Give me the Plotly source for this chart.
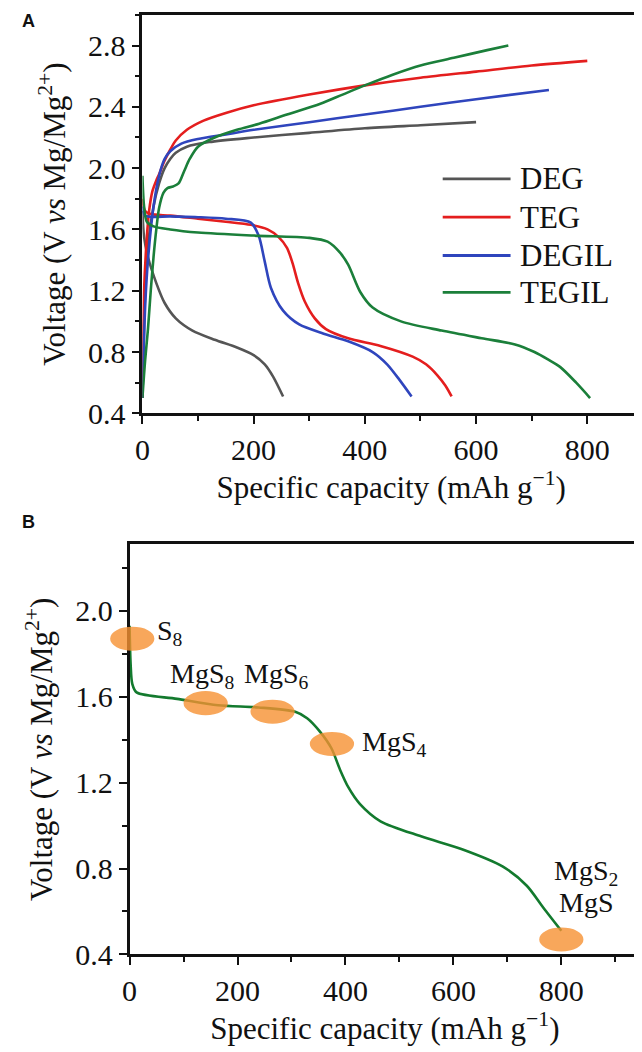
import plotly.graph_objects as go

# ---------------- Panel A data ----------------
series_names = ["DEG", "TEG", "DEGIL", "TEGIL"]
series_colors = ["#555555", "#e41e1e", "#2f45bd", "#1b7f3a"]

deg_dis_x = [0, 3, 10, 25, 40, 60, 90, 130, 170, 200, 220, 235, 253]
deg_dis_y = [1.72, 1.55, 1.42, 1.25, 1.12, 1.02, 0.94, 0.88, 0.83, 0.78, 0.72, 0.64, 0.51]
deg_chg_x = [0, 5, 10, 20, 30, 40, 50, 60, 80, 120, 200, 300, 400, 500, 600]
deg_chg_y = [0.5, 1.2, 1.5, 1.75, 1.9, 2.0, 2.06, 2.1, 2.14, 2.17, 2.2, 2.23, 2.26, 2.28, 2.30]

teg_dis_x = [0, 5, 15, 50, 100, 150, 195, 225, 245, 260, 270, 280, 292, 310, 330, 370, 428, 486, 510, 530, 545, 556]
teg_dis_y = [1.8, 1.72, 1.70, 1.69, 1.67, 1.65, 1.63, 1.60, 1.55, 1.48, 1.38, 1.25, 1.13, 1.02, 0.95, 0.89, 0.84, 0.77, 0.72, 0.65, 0.58, 0.51]
teg_chg_x = [0, 3, 8, 12, 18, 25, 30, 40, 50, 60, 80, 110, 150, 200, 300, 400, 500, 600, 700, 800]
teg_chg_y = [0.5, 1.2, 1.55, 1.72, 1.85, 1.92, 1.96, 2.05, 2.12, 2.18, 2.25, 2.31, 2.36, 2.41, 2.48, 2.54, 2.59, 2.63, 2.67, 2.70]

degil_dis_x = [0, 5, 50, 100, 150, 195, 209, 220, 231, 253, 282, 326, 370, 414, 440, 462, 484]
degil_dis_y = [1.75, 1.69, 1.685, 1.68, 1.67, 1.645, 1.56, 1.39, 1.22, 1.07, 0.98, 0.92, 0.87, 0.80, 0.72, 0.62, 0.51]
degil_chg_x = [0, 5, 10, 20, 30, 40, 50, 70, 100, 150, 200, 300, 400, 500, 600, 731]
degil_chg_y = [0.5, 1.1, 1.4, 1.75, 1.95, 2.06, 2.11, 2.16, 2.19, 2.22, 2.25, 2.30, 2.35, 2.40, 2.45, 2.51]

tegil_dis_x = [0, 3, 8, 20, 50, 100, 200, 300, 333, 355, 370, 392, 414, 465, 538, 610, 670, 705, 730, 752, 780, 805]
tegil_dis_y = [1.95, 1.75, 1.65, 1.62, 1.60, 1.58, 1.56, 1.545, 1.52, 1.45, 1.37, 1.19, 1.09, 1.00, 0.94, 0.89, 0.85, 0.80, 0.75, 0.70, 0.60, 0.50]
tegil_chg_x = [0, 5, 10, 15, 20, 25, 30, 38, 45, 55, 65, 75, 85, 100, 130, 170, 210, 260, 320, 360, 400, 450, 500, 560, 620, 658]
tegil_chg_y = [0.5, 0.75, 0.95, 1.2, 1.42, 1.6, 1.74, 1.84, 1.87, 1.88, 1.9, 1.98, 2.06, 2.14, 2.2, 2.25, 2.29, 2.35, 2.42, 2.48, 2.54, 2.61, 2.67, 2.72, 2.77, 2.80]

# legend rows (panel A, in data units)
legend_y = [1.93, 1.68, 1.43, 1.19]

# ---------------- Panel B data ----------------
b_x = [0, 2, 5, 13, 88, 164, 239, 307, 329, 352, 374, 390, 405, 427, 465, 540, 616, 691, 736, 766, 800]
b_y = [1.93, 1.75, 1.66, 1.62, 1.59, 1.56, 1.55, 1.53, 1.50, 1.44, 1.36, 1.26, 1.18, 1.10, 1.02, 0.95, 0.89, 0.81, 0.72, 0.62, 0.51]

spot_x = [5, 141, 265, 375, 800]
spot_y = [1.87, 1.57, 1.53, 1.38, 0.47]
label_text = ["S<sub>8</sub>", "MgS<sub>8</sub>", "MgS<sub>6</sub>", "MgS<sub>4</sub>", "MgS<sub>2</sub>", "MgS"]
label_x = [75, 135, 272, 490, 845, 845]
label_y = [1.90, 1.70, 1.70, 1.38, 0.78, 0.64]

x_ticks = [0, 200, 400, 600, 800]
y_ticks = [0.4, 0.8, 1.2, 1.6, 2.0, 2.4, 2.8]

W, H = 642, 1052
FONT = "Liberation Serif"

# layout of the two panels (paper fractions)
A_xdom = [128 / W, 632 / W]
A_ydom = [1 - 412 / H, 1 - 7 / H]
A_xr = [0, 895]
A_yr = [0.4, 3.0]
B_xdom = [115 / W, 632 / W]
B_ydom = [1 - 962 / H, 1 - 545 / H]
B_xr = [0, 946]
B_yr = [0.4, 2.31]


def to_paper(v, dom, rng):
    return dom[0] + (v - rng[0]) / (rng[1] - rng[0]) * (dom[1] - dom[0])


fig = go.Figure()

groups = [
    (deg_dis_x, deg_dis_y, deg_chg_x, deg_chg_y),
    (teg_dis_x, teg_dis_y, teg_chg_x, teg_chg_y),
    (degil_dis_x, degil_dis_y, degil_chg_x, degil_chg_y),
    (tegil_dis_x, tegil_dis_y, tegil_chg_x, tegil_chg_y),
]
for name, color, (dx, dy, cx, cy) in zip(series_names, series_colors, groups):
    for xs, ys in ((dx, dy), (cx, cy)):
        fig.add_trace(go.Scatter(x=xs, y=ys, mode="lines", name=name, showlegend=False,
                                 line=dict(color=color, width=2.6, shape="spline", smoothing=0.8),
                                 xaxis="x", yaxis="y"))

fig.add_trace(go.Scatter(x=b_x, y=b_y, mode="lines", showlegend=False,
                         line=dict(color="#137a2e", width=2.6, shape="spline", smoothing=0.8),
                         xaxis="x2", yaxis="y2"))

shapes = []
annotations = []

# orange spots (ellipses) in panel B, converted to paper coords so they are not clipped
hw, hh = 41, 0.056
for sx, sy in zip(spot_x, spot_y):
    shapes.append(dict(type="circle", xref="paper", yref="paper",
                       x0=to_paper(sx - hw, B_xdom, B_xr), x1=to_paper(sx + hw, B_xdom, B_xr),
                       y0=to_paper(sy - hh, B_ydom, B_yr), y1=to_paper(sy + hh, B_ydom, B_yr),
                       fillcolor="rgba(246,145,50,0.80)", line=dict(width=0), layer="above"))

for t, lx, ly in zip(label_text, label_x, label_y):
    annotations.append(dict(text=t, x=lx, y=ly, xref="x2", yref="y2", showarrow=False,
                            font=dict(family=FONT, size=28, color="#111")))

# manual legend in panel A
for name, color, ly in zip(series_names, series_colors, legend_y):
    shapes.append(dict(type="line", xref="x", yref="y", x0=540, x1=662,
                       y0=ly, y1=ly, line=dict(color=color, width=2.8)))
    annotations.append(dict(text=name, x=675, y=ly, xref="x", yref="y",
                            xanchor="left", yanchor="middle", showarrow=False,
                            font=dict(family=FONT, size=31, color="#111")))

# panel letters
annotations.append(dict(text="<b>A</b>", x=4 / W, y=1 - 13 / H, xref="paper", yref="paper",
                        xanchor="left", yanchor="middle", showarrow=False,
                        font=dict(family="Liberation Sans", size=18, color="#111")))
annotations.append(dict(text="<b>B</b>", x=4 / W, y=1 - 522 / H, xref="paper", yref="paper",
                        xanchor="left", yanchor="middle", showarrow=False,
                        font=dict(family="Liberation Sans", size=18, color="#111")))

minor_common = dict(ticks="outside", ticklen=5, tickwidth=2, tickcolor="#111")
axis_common = dict(showline=True, linecolor="#111", linewidth=2.6, mirror=True,
                   ticks="outside", tickcolor="#111", tickwidth=2, ticklen=8,
                   showgrid=False, zeroline=False,
                   tickfont=dict(family=FONT, size=30, color="#111"))

ytitle = "Voltage (V <i>vs</i> Mg/Mg<sup>2+</sup>)"
xtitle = "Specific capacity (mAh g<sup>\u22121</sup>)"
title_font = dict(family=FONT, size=31, color="#111")

fig.update_layout(
    width=W, height=H, paper_bgcolor="white", plot_bgcolor="white",
    margin=dict(l=0, r=0, t=0, b=0), showlegend=False,
    shapes=shapes, annotations=annotations,
    xaxis=dict(axis_common, domain=A_xdom, range=A_xr, anchor="y",
               tickvals=x_ticks, minor=dict(minor_common, dtick=100, tick0=0),
               title=dict(text=xtitle, font=title_font, standoff=0)),
    yaxis=dict(axis_common, domain=A_ydom, range=A_yr, anchor="x",
               tickvals=y_ticks, ticktext=[f"{v:.1f}" for v in y_ticks],
               minor=dict(minor_common, dtick=0.2, tick0=0.4),
               title=dict(text=ytitle, font=title_font, standoff=14)),
    xaxis2=dict(axis_common, domain=B_xdom, range=B_xr, anchor="y2",
                tickvals=x_ticks, minor=dict(minor_common, dtick=100, tick0=0),
                title=dict(text=xtitle, font=title_font, standoff=0)),
    yaxis2=dict(axis_common, domain=B_ydom, range=B_yr, anchor="x2",
                tickvals=y_ticks[:5], ticktext=[f"{v:.1f}" for v in y_ticks[:5]],
                minor=dict(minor_common, dtick=0.2, tick0=0.4),
                title=dict(text=ytitle, font=title_font, standoff=14)),
)

fig.write_html("out.html")
